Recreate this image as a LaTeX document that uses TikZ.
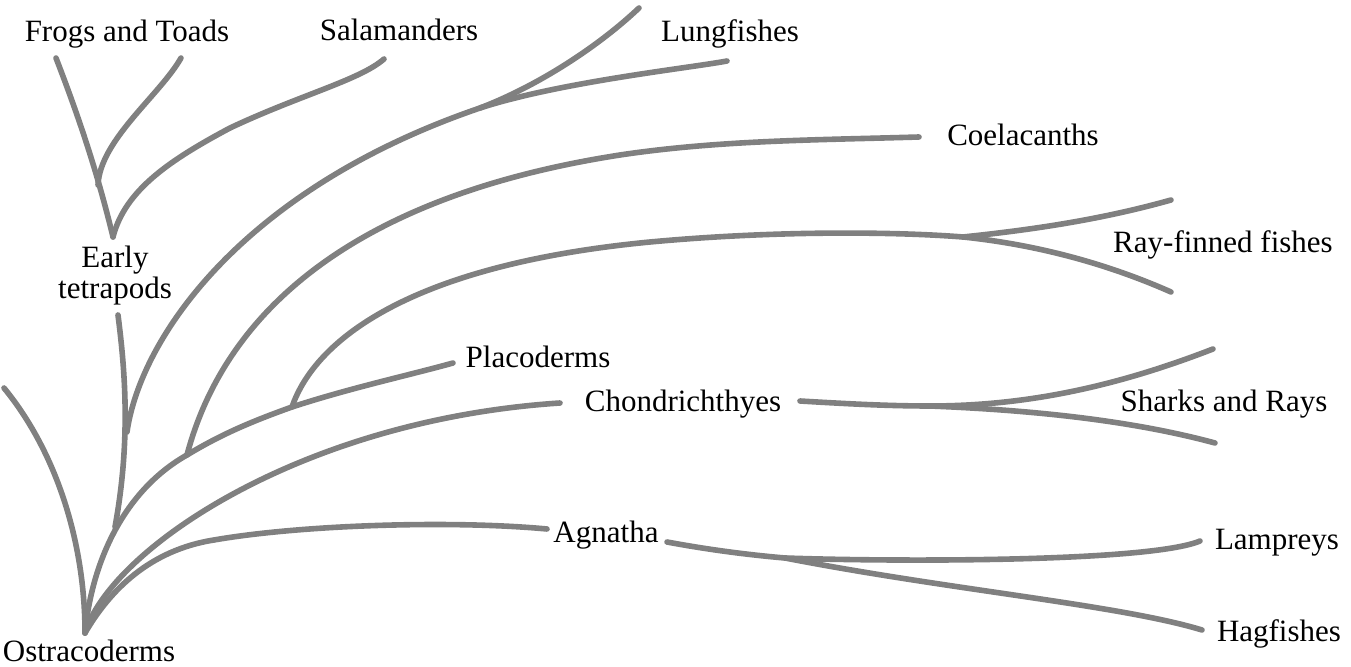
\documentclass[tikz,border=0pt]{standalone}
\usepackage{fontspec}
\setmainfont{Liberation Serif}
\usepackage{xcolor}
\definecolor{branchgray}{RGB}{128,128,128}
\tikzset{
  branch/.style={draw=branchgray, line width=2.8pt, line cap=round},
  taxon/.style={font=\fontsize{15.5}{15.5}\selectfont, inner sep=0pt, anchor=base},
}

\begin{document}
\begin{tikzpicture}[x=0.5pt, y=-0.5pt]
                \useasboundingbox (0,0) rectangle (1351,667);

                % 分岐点
                \coordinate (root) at (85,633);
                \coordinate (leftEnd) at (4,388);
                \coordinate (placA) at (187,455);
                \coordinate (placB) at (292,407);
                \coordinate (placEnd) at (453,363);
                \coordinate (tetJoin) at (115,527);
                \coordinate (tetLow) at (118,315);
                \coordinate (tetTop) at (113,237);
                \coordinate (lungBase) at (127,432);
                \coordinate (lungSplit) at (480,108);
                \coordinate (lungEnd) at (727,61);
                \coordinate (topEnd) at (639,8);
                \coordinate (frogEnd) at (56,58);
                \coordinate (toadEnd) at (181,58);
                \coordinate (toadJoin) at (98,185);
                \coordinate (salEnd) at (384,59);
                \coordinate (coelEnd) at (919,137);
                \coordinate (raySplit) at (963,237);
                \coordinate (rayUp) at (1171,200);
                \coordinate (rayDown) at (1171,292);
                \coordinate (chondEnd) at (560,403);
                \coordinate (chondStart) at (800,401);
                \coordinate (chondSplit) at (930,406);
                \coordinate (sharkUp) at (1213,349);
                \coordinate (sharkDown) at (1215,443);
                \coordinate (agnEnd) at (547,529);
                \coordinate (agnStart) at (667,542);
                \coordinate (agnSplit) at (785,558);
                \coordinate (lampEnd) at (1200,541);
                \coordinate (hagEnd) at (1202,630);

                % 名前
                \node[taxon] (frogs) at (127,42) {Frogs and Toads};
                \node[taxon] (salam) at (399,41) {Salamanders};
                \node[taxon] (lungf) at (730,42) {Lungfishes};
                \node[taxon] (coela) at (1023,146) {Coelacanths};
                \node[taxon] (rayfin) at (1223,253) {Ray-finned fishes};
                \node[taxon, anchor=center, align=center] (early) at (115,276) {Early\\tetrapods};
                \node[taxon] (placo) at (538,368) {Placoderms};
                \node[taxon] (chond) at (683,412) {Chondrichthyes};
                \node[taxon] (sharks) at (1224,412) {Sharks and Rays};
                \node[taxon] (agna) at (606,543) {Agnatha};
                \node[taxon] (lamp) at (1277,550) {Lampreys};
                \node[taxon] (hag) at (1279,642) {Hagfishes};
                \node[taxon] (ostra) at (89,662) {Ostracoderms};

                % 根元から
                \draw[branch] (root) .. controls (85,540) and (55,450) .. (leftEnd);
                \draw[branch] (root) .. controls (110,590) and (150,550) .. (214,540)
                    .. controls (300,525) and (450,520) .. (agnEnd);
                \draw[branch] (root) .. controls (110,550) and (300,420) .. (chondEnd);
                \draw[branch] (root) .. controls (92,560) and (125,490) .. (placA)
                    .. controls (220,435) and (250,422) .. (placB)
                    .. controls (350,388) and (410,375) .. (placEnd);

                % 四足類
                \draw[branch] (tetLow) .. controls (125,370) and (131,440) .. (tetJoin);
                \draw[branch] (frogEnd) .. controls (80,120) and (98,175) .. (tetTop);
                \draw[branch] (toadEnd) .. controls (160,95) and (100,140) .. (toadJoin);
                \draw[branch] (tetTop) .. controls (125,190) and (170,160) .. (230,128)
                    .. controls (300,95) and (360,80) .. (salEnd);

                % 肺魚
                \draw[branch] (lungBase) .. controls (140,340) and (240,190) .. (lungSplit)
                    .. controls (540,85) and (600,45) .. (topEnd);
                \draw[branch] (lungSplit) .. controls (560,82) and (690,68) .. (lungEnd);

                % シーラカンス, 条鰭類
                \draw[branch] (placA) .. controls (220,330) and (330,200) .. (620,155)
                    .. controls (720,140) and (820,140) .. (coelEnd);
                \draw[branch] (placB) .. controls (315,340) and (410,265) .. (650,242)
                    .. controls (780,230) and (900,232) .. (raySplit);
                \draw[branch] (raySplit) .. controls (1030,230) and (1100,220) .. (rayUp);
                \draw[branch] (raySplit) .. controls (1040,245) and (1110,265) .. (rayDown);

                % 軟骨魚類
                \draw[branch] (chondStart) .. controls (850,404) and (890,406) .. (chondSplit);
                \draw[branch] (chondSplit) .. controls (1030,406) and (1120,385) .. (sharkUp);
                \draw[branch] (chondSplit) .. controls (1030,410) and (1130,420) .. (sharkDown);

                % 無顎類
                \draw[branch] (agnStart) .. controls (710,550) and (750,555) .. (agnSplit);
                \draw[branch] (agnSplit) .. controls (900,562) and (1150,562) .. (lampEnd);
                \draw[branch] (agnSplit) .. controls (950,590) and (1120,605) .. (hagEnd);

\end{tikzpicture}
\end{document}
